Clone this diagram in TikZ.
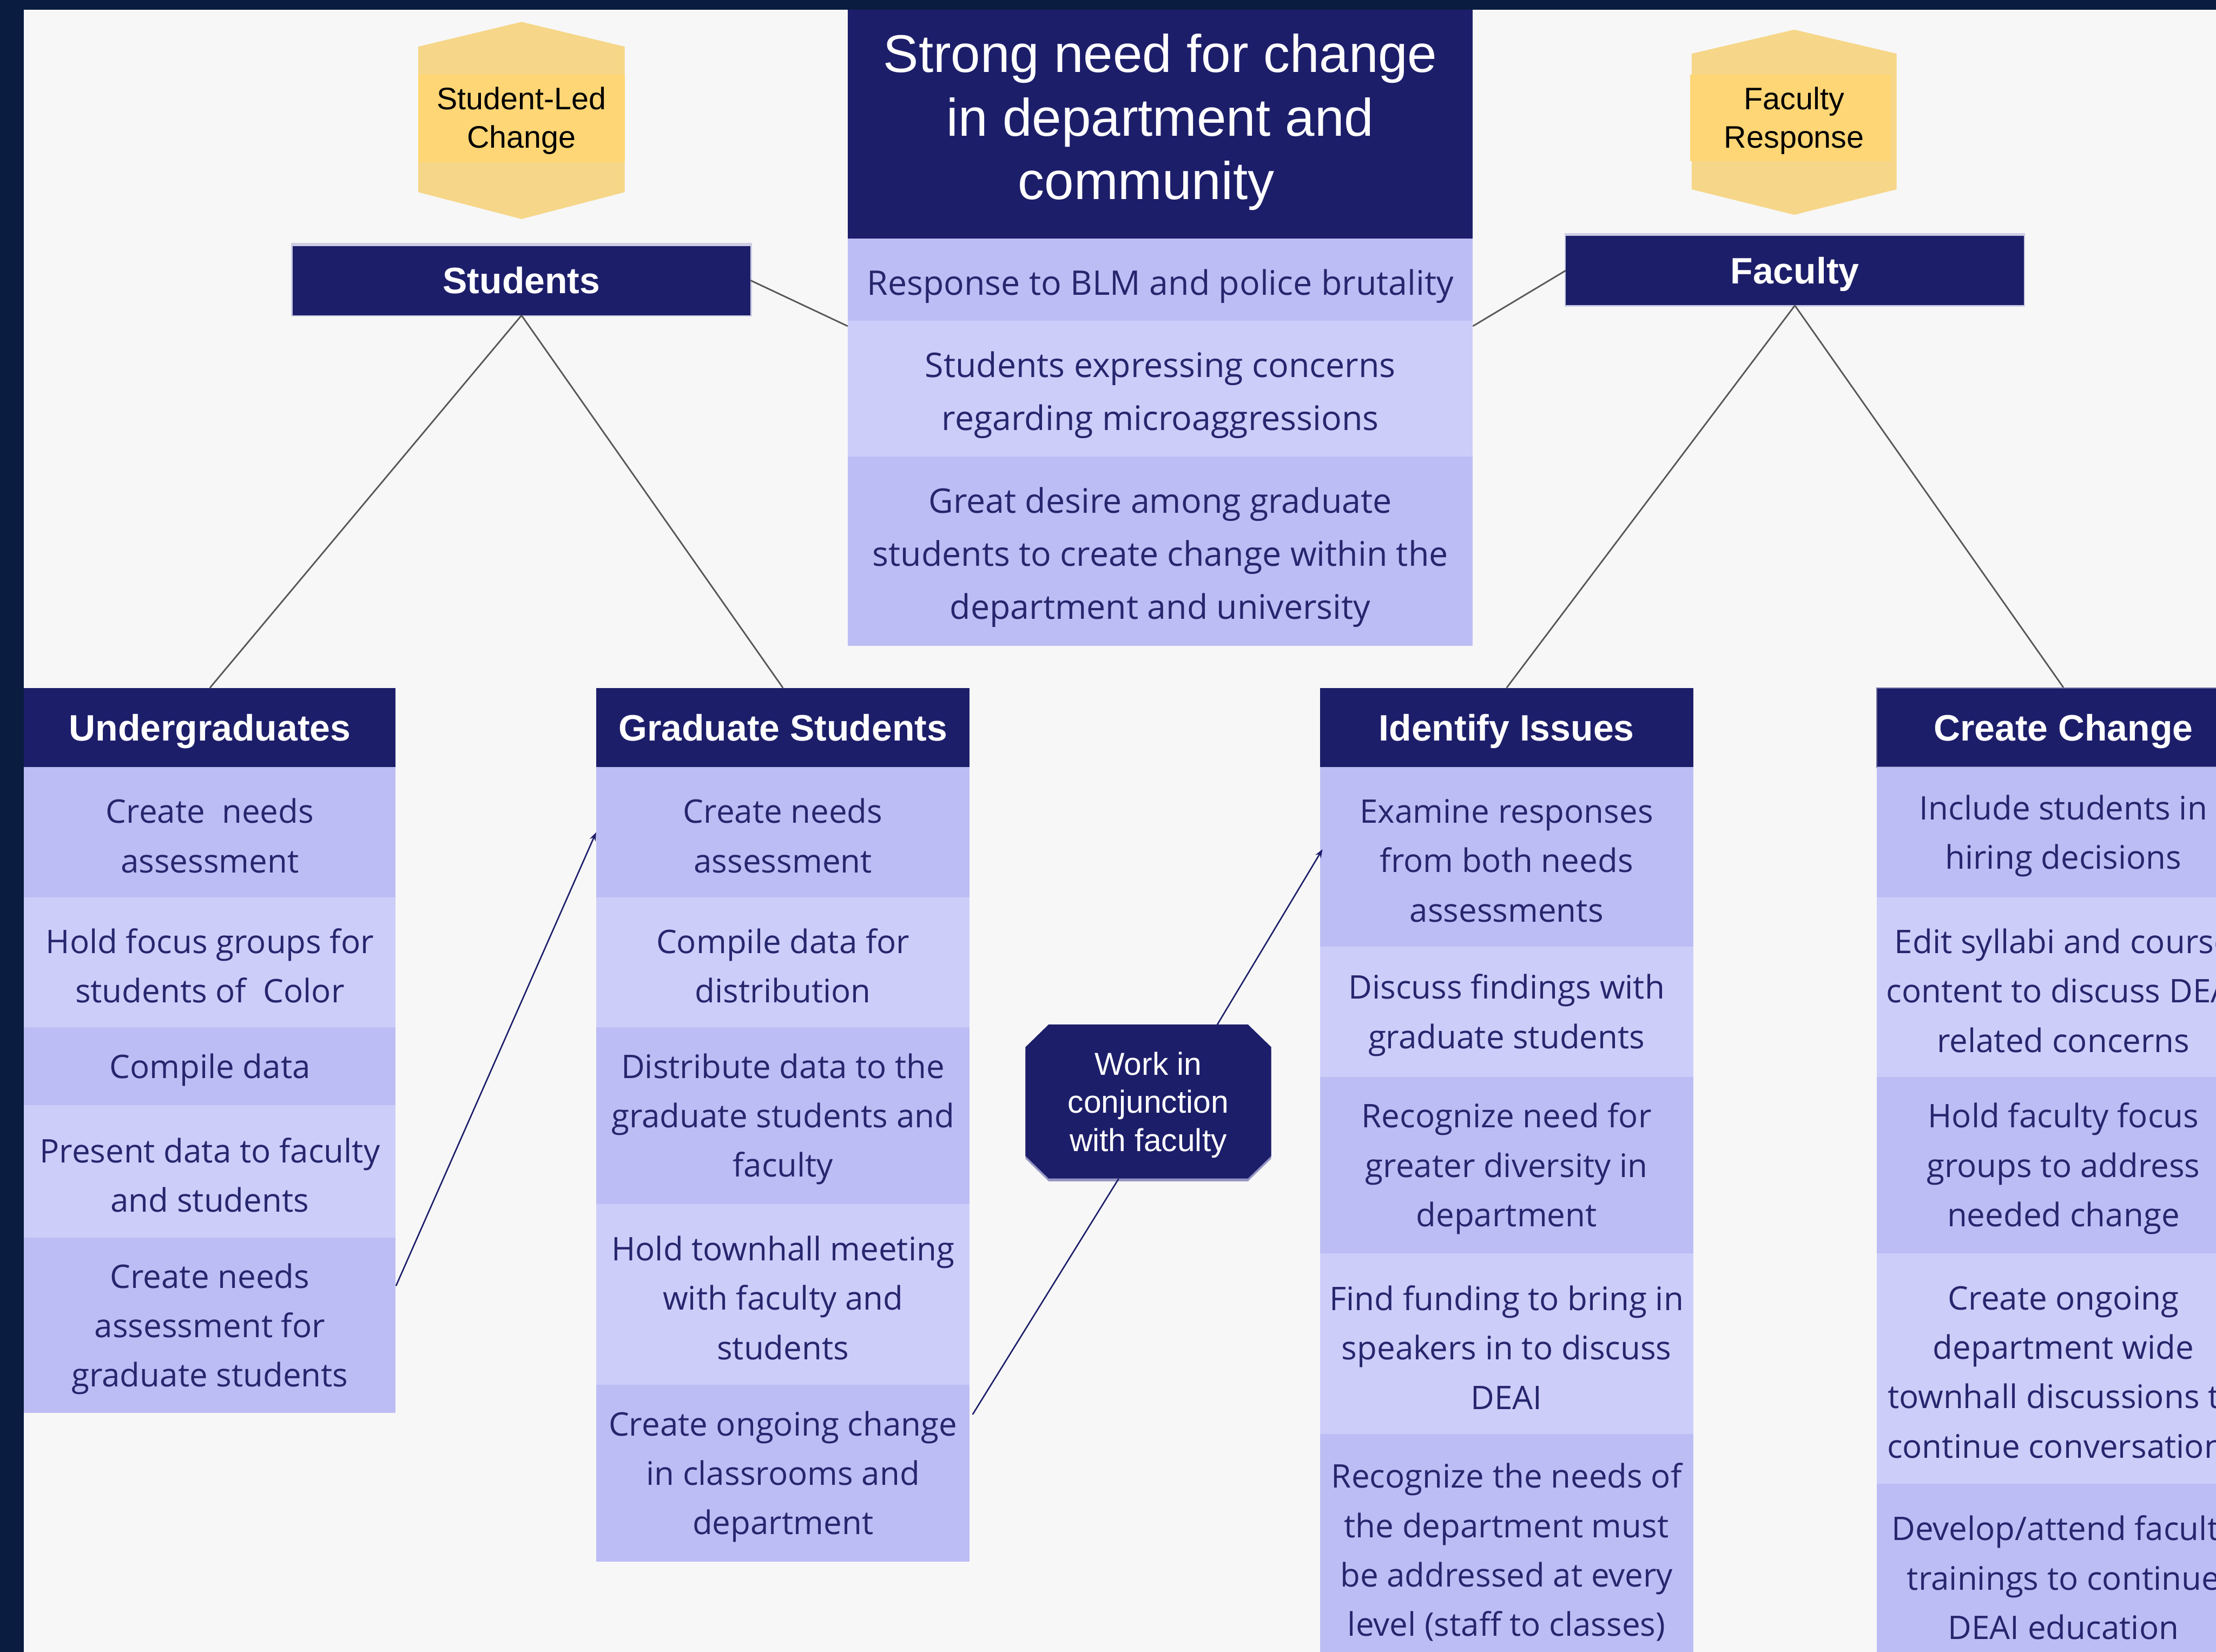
\documentclass[tikz,border=0pt]{standalone}
\usepackage{fontspec}
\setmainfont{Liberation Sans}
\newfontfamily\cellfont{Open Sans}
\usetikzlibrary{calc,arrows.meta}

\definecolor{frame}{RGB}{10,28,64}
\definecolor{paper}{RGB}{247,247,247}
\definecolor{navy}{RGB}{29,30,106}
\definecolor{cellA}{RGB}{189,189,245}
\definecolor{cellB}{RGB}{205,205,250}
\definecolor{celltext}{RGB}{38,38,110}
\definecolor{hexout}{RGB}{246,214,136}
\definecolor{hexin}{RGB}{254,214,117}
\definecolor{treeline}{RGB}{88,88,88}
\definecolor{edgeline}{RGB}{110,110,160}
\definecolor{octshade}{RGB}{150,150,195}
\definecolor{boxrim}{RGB}{205,205,228}

\def\textdrop{0}
\tikzset{textdrop/.store in=\textdrop}

% box given by its corners: name, x1, y1, x2, y2, style, text
% the fill is one node, its lettering a second node set a little lower
\newcommand\mkcell[7]{%
  \node[#6, minimum width={(#4)-(#2)}, minimum height={(#5)-(#3)}]
    (#1) at ({((#2)+(#4))/2},{((#3)+(#5))/2}) {};
  \node[#6, fill=none, draw=none, yshift=-\textdrop pt]
    (#1t) at (#1.center) {#7};}

\begin{document}
\begin{tikzpicture}[x=1pt,y=-1pt,
  darkcell/.style={fill=cellA, text=celltext, align=center, inner sep=0pt,
    font=\cellfont\fontsize{23}{35}\selectfont, textdrop=2.5},
  lightcell/.style={darkcell, fill=cellB},
  middark/.style={darkcell, font=\cellfont\fontsize{24}{37.5}\selectfont, textdrop=4.5},
  midlight/.style={middark, fill=cellB},
  colhead/.style={fill=navy, text=white, inner sep=0pt,
    text height=18.7pt, text depth=0pt, textdrop=0,
    font=\bfseries\fontsize{26}{30}\selectfont},
  hextext/.style={text=black, align=center, inner sep=0pt,
    font=\fontsize{22}{27}\selectfont},
  tree/.style={draw=treeline, line width=1.1pt},
  flow/.style={draw=navy, line width=1pt},
  tip/.style={-{Stealth[length=6pt,width=4.5pt]}}]

\useasboundingbox (0,0) rectangle (1568,1169);
\clip (0,0) rectangle (1568,1169);

% page frame and sheet
\fill[frame] (0,0) rectangle (1568,1169);
\fill[paper] (17,7) rectangle (1568,1169);

% hexagon badges
\fill[hexout] (296,33) -- (369,15.5) -- (442,33) -- (442,136) -- (369,155) -- (296,136) -- cycle;
\fill[hexin] (296,53) rectangle (442,115);
\node[hextext] (hexS) at (369,85.5) {Student-Led\\Change};

\fill[hexout] (1197,38) -- (1269.5,21) -- (1342,38) -- (1342,134) -- (1269.5,152) -- (1197,134) -- cycle;
\fill[hexin] (1196,53) rectangle (1338,114);
\node[hextext] (hexF) at (1269.5,85.5) {Faculty\\Response};

% central block
\mkcell{hdr}{600}{7}{1042}{169}{colhead}{}
\node[text=white, align=center, inner sep=0pt, font=\fontsize{37.5}{45}\selectfont]
  (hdrtxt) at (821,86.5) {Strong need for change\\in department and\\community\hspace*{20pt}};
\mkcell{m1}{600}{169}{1042}{227}{middark}{Response to BLM and police brutality}
\mkcell{m2}{600}{227}{1042}{323}{midlight}{Students expressing concerns\\regarding microaggressions}
\mkcell{m3}{600}{323}{1042}{457}{middark}{Great desire among graduate\\students to create change within the\\department and university}

% group boxes
\fill[boxrim] (206,172) rectangle (532,224);
\fill[boxrim] (1107,165) rectangle (1433,217);
\mkcell{stu}{207}{174}{531}{223}{colhead}{Students}
\mkcell{fac}{1108}{167}{1432}{216}{colhead}{Faculty}

% undergraduate column
\mkcell{u0}{17}{487}{280}{543}{colhead}{Undergraduates}
\mkcell{u1}{17}{543}{280}{635}{darkcell}{Create\ \ needs\\assessment}
\mkcell{u2}{17}{635}{280}{727}{lightcell}{Hold focus groups for\\students of\ \ Color}
\mkcell{u3}{17}{727}{280}{782}{darkcell}{Compile data}
\mkcell{u4}{17}{782}{280}{876}{lightcell}{Present data to faculty\\and students}
\mkcell{u5}{17}{876}{280}{1000}{darkcell}{Create needs\\assessment for\\graduate students}

% graduate column
\mkcell{g0}{422}{487}{686}{543}{colhead}{Graduate Students}
\mkcell{g1}{422}{543}{686}{635}{darkcell}{Create needs\\assessment}
\mkcell{g2}{422}{635}{686}{727}{lightcell}{Compile data for\\distribution}
\mkcell{g3}{422}{727}{686}{852}{darkcell}{Distribute data to the\\graduate students and\\faculty}
\mkcell{g4}{422}{852}{686}{980}{lightcell}{Hold townhall meeting\\with faculty and\\students}
\mkcell{g5}{422}{980}{686}{1105}{darkcell}{Create ongoing change\\in classrooms and\\department}

% identify column
\mkcell{i0}{934}{487}{1198}{543}{colhead}{Identify Issues}
\mkcell{i1}{934}{543}{1198}{670}{darkcell}{Examine responses\\from both needs\\assessments}
\mkcell{i2}{934}{670}{1198}{762}{lightcell}{Discuss findings with\\graduate students}
\mkcell{i3}{934}{762}{1198}{887}{darkcell}{Recognize need for\\greater diversity in\\department}
\mkcell{i4}{934}{887}{1198}{1015}{lightcell}{Find funding to bring in\\speakers in to discuss\\DEAI}
\mkcell{i5}{934}{1015}{1198}{1177}{darkcell}{Recognize the needs of\\the department must\\be addressed at every\\level (staff to classes)}

% change column
\mkcell{c0}{1328}{487}{1592}{543}{colhead, draw=edgeline, line width=1pt}{Create Change}
\mkcell{c1}{1328}{543}{1592}{635}{darkcell}{Include students in\\hiring decisions}
\mkcell{c2}{1328}{635}{1592}{762}{lightcell}{Edit syllabi and course\\content to discuss DEAI\\related concerns}
\mkcell{c3}{1328}{762}{1592}{887}{darkcell}{Hold faculty focus\\groups to address\\needed change}
\mkcell{c4}{1328}{887}{1592}{1050}{lightcell}{Create ongoing\\department wide\\townhall discussions to\\continue conversations}
\mkcell{c5}{1328}{1050}{1592}{1178}{darkcell}{Develop/attend faculty\\trainings to continue\\DEAI education}

% octagon linking the two streams
\fill[octshade] (742,727) -- (883,727) -- (899.5,743) -- (899.5,820) -- (883,836) -- (742,836) -- (725.6,820) -- (725.6,743) -- cycle;
\fill[navy] (742,725) -- (883,725) -- (899.5,741) -- (899.5,818) -- (883,834) -- (742,834) -- (725.6,818) -- (725.6,741) -- cycle;
\node[text=white, align=center, inner sep=0pt, minimum width=174, minimum height=109,
  font=\fontsize{22.5}{27}\selectfont] (oct) at (812.5,782) {Work in\\conjunction\\with faculty};

% tree connectors
\draw[tree] (stu.east) -- ($(m2.north west)+(0,4)$);
\draw[tree] (fac.west) -- ($(m2.north east)+(0,4)$);
\draw[tree] (stu.south) -- (u0.north);
\draw[tree] (stu.south) -- (g0.north);
\draw[tree] (fac.south) -- (i0.north);
\draw[tree] (fac.south) -- (c0.north);

% flow arrows
\draw[flow, tip] ($(u5.east)+(0,-28)$) -- (g1.west);
\draw[flow] ($(g5.east)+(2,-41.5)$) -- ($(oct.south)+(-21,-2.5)$);
\draw[flow, tip] ($(oct.north)+(46,2.5)$) -- ($(i1.west)+(2,-5.5)$);

\end{tikzpicture}
\end{document}
